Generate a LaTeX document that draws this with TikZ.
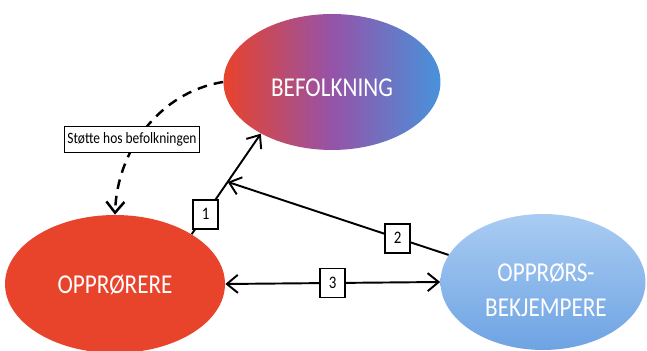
\documentclass[tikz,border=0pt]{standalone}
\usepackage{fontspec}
\setmainfont{Carlito}[FakeStretch=0.85]
\usetikzlibrary{shapes.geometric,arrows.meta}
\definecolor{oppred}{HTML}{E8432B}
\definecolor{folkmid}{HTML}{9553A8}
\definecolor{folkblue}{HTML}{4892DB}
\definecolor{motlight}{HTML}{A9CCF2}
\definecolor{motdark}{HTML}{6EA3E3}
\begin{document}
\begin{tikzpicture}[x=0.02cm,y=-0.02cm] % en enhet = en piksel
\tikzstyle{gruppe} = [ellipse, inner sep=0pt] % stor ellipse
\tikzstyle{navn} = [text=white, align=center, font=\fontsize{15.5}{20}\selectfont] % hvit tekst i ellipsen
\tikzstyle{nummer} = [draw, fill=white, minimum width=0.5cm, minimum height=0.58cm, inner sep=0pt, font=\fontsize{10}{12}\selectfont] % boks med tall
\tikzstyle{pil} = [line width=1.1pt, -{Straight Barb[length=2.2mm,width=3.6mm]}] % pil med aapen spiss
\useasboundingbox (0,0) rectangle (647,351);
\node[gruppe, minimum width=4.34cm, minimum height=2.72cm, left color=oppred, right color=folkblue, middle color=folkmid] (folk) at (332,82) {}; % befolkningen
\node[gruppe, minimum width=4.4cm, minimum height=2.76cm, fill=oppred] (opp) at (115,284) {}; % opprorerne
\node[gruppe, minimum width=4.1cm, minimum height=2.72cm, top color=motlight, bottom color=motdark] (mot) at (543,282) {}; % motstanderne
\node[navn] (folknavn) at (332,88) {BEFOLKNING};
\node[navn] (oppnavn) at (115,285) {OPPRØRERE};
\node[navn] (motnavn) at (546,290) {OPPRØRS-\\BEKJEMPERE};
\draw[pil] (opp.33) -- node[nummer, pos=0.2] (n1) {1} coordinate[pos=0.52] (midt) (folk.216);
\draw[pil] (mot.164) -- node[nummer, pos=0.23] (n2) {2} (midt);
\draw[pil, {Straight Barb[length=2.2mm,width=3.6mm]}-{Straight Barb[length=2.2mm,width=3.6mm]}] (opp.east) -- node[nummer] (n3) {3} (mot.west);
\draw[pil, line width=1.4pt, dash pattern=on 5.5pt off 4pt] (folk.west) .. controls (160,92) and (117,150) .. (opp.north); % stiplet kurve
\node[draw, fill=white, minimum width=2.7cm, minimum height=0.52cm, inner sep=1pt, font=\fontsize{9}{11}\selectfont] (stotte) at (132,139) {Støtte hos befolkningen}; % merkelapp over kurven
\end{tikzpicture}
\end{document}
